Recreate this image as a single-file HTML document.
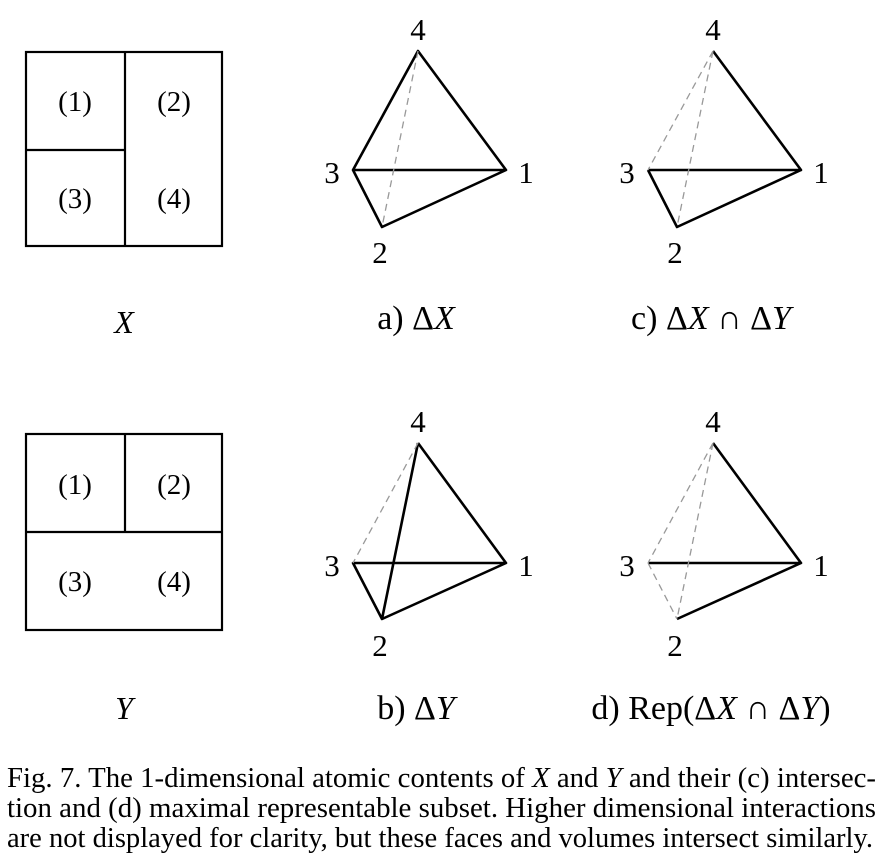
<!DOCTYPE html>
<html><head><style>html,body{margin:0;padding:0;background:#fff}svg{display:block}</style></head>
<body>
<svg width="884" height="868" viewBox="0 0 884 868" xmlns="http://www.w3.org/2000/svg" font-family="Liberation Serif, serif">
<g fill="none" stroke="#000" stroke-width="2.2">
<rect x="26" y="52" width="196" height="194"/>
<line x1="125" y1="52" x2="125" y2="246"/>
<line x1="26" y1="150" x2="125" y2="150"/>
<rect x="26" y="434" width="196" height="196"/>
<line x1="125" y1="434" x2="125" y2="532"/>
<line x1="26" y1="532" x2="222" y2="532"/>
</g>
<g font-size="29" text-anchor="middle">
<text x="75" y="111">(1)</text><text x="174" y="111">(2)</text>
<text x="75" y="208">(3)</text><text x="174" y="208">(4)</text>
<text x="75" y="494">(1)</text><text x="174" y="494">(2)</text>
<text x="75" y="591">(3)</text><text x="174" y="591">(4)</text>
</g>
<g font-size="32" text-anchor="middle" font-style="italic">
<text x="124" y="333">X</text><text x="124" y="719">Y</text>
</g>
<g stroke="#000" stroke-width="2.6" fill="none" stroke-linejoin="round">
<path d="M353,170 L418,51 L506,170 Z M353,170 L382,227 L506,170"/>
<path d="M648,170 L801,170 L713,51 M648,170 L677,227 L801,170"/>
<path d="M418,443 L506,563 L353,563 L382,619 L506,563 M382,619 L418,443"/>
<path d="M713,443 L801,563 L648,563 M677,619 L801,563"/>
</g>
<g stroke="#999" stroke-width="1.3" stroke-dasharray="7,5" fill="none">
<path d="M418,51 L382,227"/>
<path d="M713,51 L648,170 M713,51 L677,227"/>
<path d="M418,443 L353,563"/>
<path d="M713,443 L648,563 M713,443 L677,619 M648,563 L677,619"/>
</g>
<g font-size="31" text-anchor="middle">
<text x="418" y="40">4</text><text x="332" y="183">3</text><text x="526" y="183">1</text><text x="380" y="263">2</text>
<text x="713" y="40">4</text><text x="627" y="183">3</text><text x="821" y="183">1</text><text x="675" y="263">2</text>
<text x="418" y="432">4</text><text x="332" y="576">3</text><text x="526" y="576">1</text><text x="380" y="656">2</text>
<text x="713" y="432">4</text><text x="627" y="576">3</text><text x="821" y="576">1</text><text x="675" y="656">2</text>
</g>
<g font-size="34" text-anchor="middle" xml:space="preserve">
<text x="416" y="329">a) Δ<tspan font-style="italic">X</tspan></text>
<text x="711" y="329">c) Δ<tspan font-style="italic">X</tspan> ∩ Δ<tspan font-style="italic">Y</tspan></text>
<text x="416" y="719">b) Δ<tspan font-style="italic">Y</tspan></text>
<text x="711" y="719">d) Rep(Δ<tspan font-style="italic">X</tspan> ∩ Δ<tspan font-style="italic">Y</tspan>)</text>
</g>
<g font-size="29">
<text x="7" y="787" textLength="869" lengthAdjust="spacingAndGlyphs">Fig. 7.  The 1-dimensional atomic contents of <tspan font-style="italic">X</tspan> and <tspan font-style="italic">Y</tspan> and their (c) intersec-</text>
<text x="7" y="817" textLength="869" lengthAdjust="spacingAndGlyphs">tion and (d) maximal representable subset. Higher dimensional interactions</text>
<text x="7" y="847" textLength="866" lengthAdjust="spacingAndGlyphs">are not displayed for clarity, but these faces and volumes intersect similarly.</text>
</g>
</svg>
</body></html>
